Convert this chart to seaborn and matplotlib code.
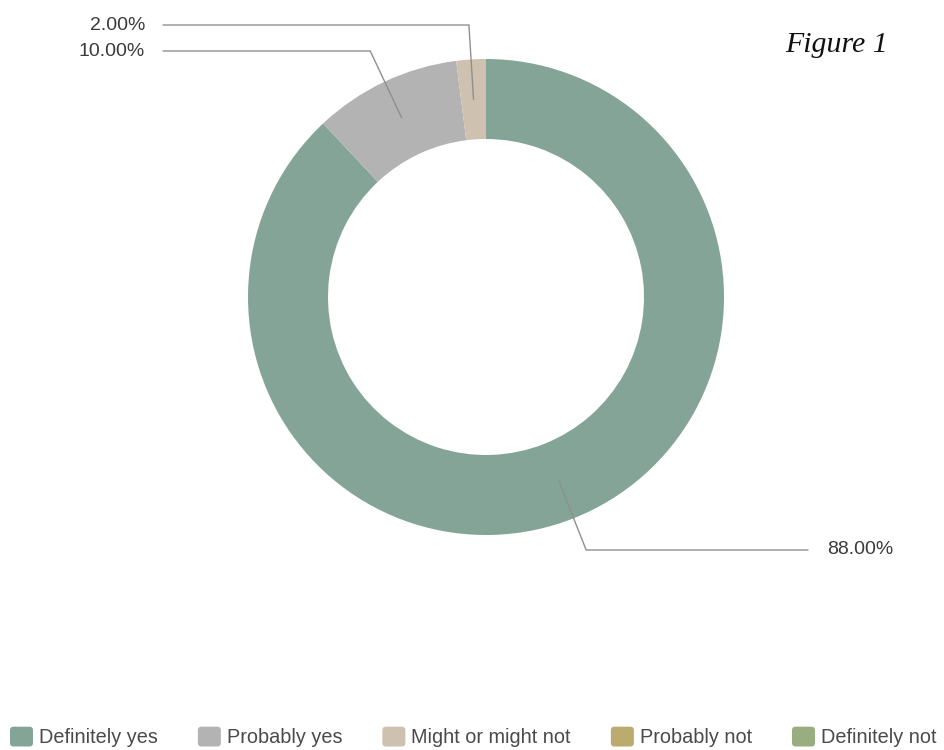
import numpy as np
import matplotlib
matplotlib.use("Agg")
import matplotlib.pyplot as plt
import seaborn as sns
from matplotlib.patches import FancyBboxPatch, Patch
from matplotlib.legend_handler import HandlerPatch

# ---------------- data ----------------
categories = ["Definitely yes", "Probably yes", "Might or might not", "Probably not", "Definitely not"]
values = [88.0, 10.0, 2.0, 0.0, 0.0]
value_labels = ["88.00%", "10.00%", "2.00%", "", ""]
hex_colors = ["#84a498", "#b3b3b3", "#cfc1af", "#bcab6f", "#99ae80"]

# ---------------- layout (pixels, y measured from top) ----------------
W, H = 944, 750
cx_px, cy_px = 486, 297
r_out, r_in = 238, 158
label_y_px = {"Definitely yes": 550, "Probably yes": 51, "Might or might not": 25}

sns.set_theme(style="white")
plt.rcParams["font.family"] = ["Liberation Sans", "DejaVu Sans"]
palette = sns.color_palette(hex_colors)

fig = plt.figure(figsize=(W / 100, H / 100), dpi=100)
fig.patch.set_facecolor("white")
ax = fig.add_axes([0, 0, 1, 1])

cx, cy = cx_px, H - cy_px
ax.pie(values, colors=palette, startangle=90, counterclock=False,
       radius=r_out, center=(cx, cy),
       wedgeprops=dict(width=r_out - r_in, linewidth=0, edgecolor="none"))
ax.set_xlim(0, W)
ax.set_ylim(0, H)
ax.set_aspect("equal")
ax.axis("off")

# leader lines + labels
total = sum(values)
cum = 0.0
r_mid = (r_out + r_in) / 2
line_color = "#8f8f8f"
for cat, v, lab in zip(categories, values, value_labels):
    if v > 0 and cat in label_y_px:
        theta = np.deg2rad(360.0 * (cum + v / 2) / total)
        dx, dy = np.sin(theta), np.cos(theta)
        ax_x, ax_y = cx + r_mid * dx, cy + r_mid * dy
        ly = H - label_y_px[cat]
        t = (ly - ax_y) / dy
        ex, ey = ax_x + t * dx, ly
        if dx < 0:
            end_x, tx, ha = 163, 145, "right"
        else:
            end_x, tx, ha = 808, 827, "left"
        ax.plot([ax_x, ex, end_x], [ax_y, ey, ly], color=line_color, lw=1.0,
                solid_joinstyle="miter", zorder=5)
        ax.text(tx, ly, lab, ha=ha, va="center", fontsize=14, color="#3a3a3a")
    cum += v

# title
ax.text(888, H - 45, "Figure 1", ha="right", va="center", fontsize=21.5,
        fontstyle="italic", family=["Liberation Serif", "DejaVu Serif"], color="#111111")


class RoundHandler(HandlerPatch):
    def create_artists(self, legend, orig_handle, xdescent, ydescent, width, height, fontsize, trans):
        p = FancyBboxPatch((-xdescent, -ydescent), width, height,
                           boxstyle="round,pad=0,rounding_size=%f" % (height * 0.18),
                           facecolor=orig_handle.get_facecolor(), edgecolor="none",
                           transform=trans)
        return [p]


handles = [Patch(facecolor=c, label=n) for c, n in zip(palette, categories)]
fs = 14.3
px_per_em = fs * 100 / 72
leg = fig.legend(handles=handles, loc="center left", ncol=5, frameon=False,
                 bbox_to_anchor=(10 / W, 1 - 737 / H), bbox_transform=fig.transFigure,
                 borderpad=0, borderaxespad=0,
                 handlelength=23 / px_per_em, handleheight=23 / px_per_em,
                 handletextpad=6 / px_per_em, columnspacing=40 / px_per_em,
                 prop={"size": fs}, labelcolor="#4a4a4a",
                 handler_map={Patch: RoundHandler()})

fig.savefig("out.png", dpi=100, facecolor="white")
